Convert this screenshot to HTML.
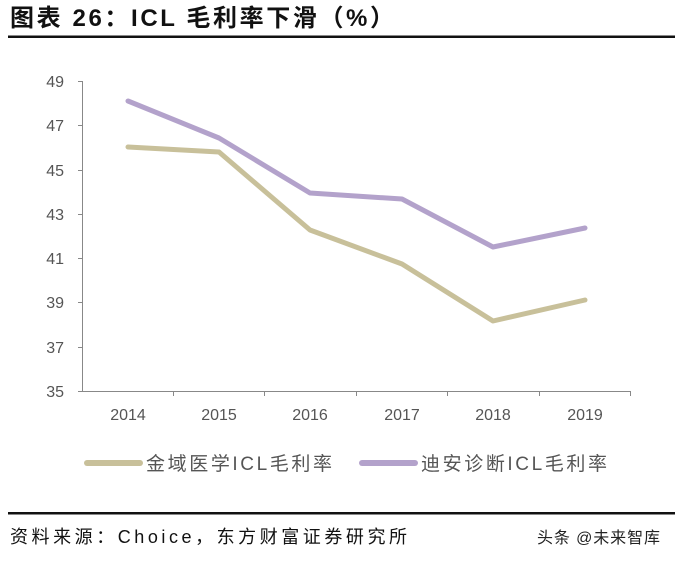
<!DOCTYPE html>
<html><head><meta charset="utf-8"><style>
body{margin:0;background:#fff;width:675px;height:561px;overflow:hidden}
svg{display:block}
</style></head><body>
<svg width="675" height="561" xmlns="http://www.w3.org/2000/svg" font-family="Liberation Sans, Noto Sans CJK SC, sans-serif">
<text x="10" y="26" font-size="24" font-weight="bold" fill="#111" textLength="384" lengthAdjust="spacing">图表 26：ICL 毛利率下滑（%）</text>
<rect x="8" y="35.5" width="667" height="2.5" fill="#111"/>
<g stroke="#888" stroke-width="1" fill="none">
<line x1="82.5" y1="81" x2="82.5" y2="391"/>
<line x1="82" y1="391.5" x2="630" y2="391.5"/>
<line x1="78" y1="81.5" x2="83" y2="81.5"/><line x1="78" y1="125.5" x2="83" y2="125.5"/><line x1="78" y1="170.5" x2="83" y2="170.5"/><line x1="78" y1="214.5" x2="83" y2="214.5"/><line x1="78" y1="258.5" x2="83" y2="258.5"/><line x1="78" y1="302.5" x2="83" y2="302.5"/><line x1="78" y1="347.5" x2="83" y2="347.5"/><line x1="78" y1="391.5" x2="83" y2="391.5"/>
<line x1="173.5" y1="391" x2="173.5" y2="396"/><line x1="264.5" y1="391" x2="264.5" y2="396"/><line x1="356.5" y1="391" x2="356.5" y2="396"/><line x1="447.5" y1="391" x2="447.5" y2="396"/><line x1="539.5" y1="391" x2="539.5" y2="396"/><line x1="630.5" y1="391" x2="630.5" y2="396"/>
</g>
<g font-size="16" fill="#555" text-anchor="end">
<text x="64" y="87">49</text><text x="64" y="131">47</text><text x="64" y="176">45</text><text x="64" y="220">43</text><text x="64" y="264">41</text><text x="64" y="308">39</text><text x="64" y="353">37</text><text x="64" y="397">35</text>
</g>
<g font-size="16" fill="#555" text-anchor="middle">
<text x="128" y="420">2014</text><text x="219" y="420">2015</text><text x="310" y="420">2016</text><text x="402" y="420">2017</text><text x="493" y="420">2018</text><text x="585" y="420">2019</text>
</g>
<polyline points="128,147 219,152 310,230 402,264 493,321 585,300" fill="none" stroke="#c8c09a" stroke-width="5" stroke-linejoin="round" stroke-linecap="round"/>
<polyline points="128,101 219,138 310,193 402,199 493,247 585,228" fill="none" stroke="#b3a2cb" stroke-width="5" stroke-linejoin="round" stroke-linecap="round"/>
<line x1="87" y1="463" x2="140" y2="463" stroke="#c8c09a" stroke-width="6" stroke-linecap="round"/>
<text x="146" y="470" font-size="19" fill="#555" textLength="186" lengthAdjust="spacing">金域医学ICL毛利率</text>
<line x1="362" y1="463" x2="415" y2="463" stroke="#b3a2cb" stroke-width="6" stroke-linecap="round"/>
<text x="421" y="470" font-size="19" fill="#555" textLength="186" lengthAdjust="spacing">迪安诊断ICL毛利率</text>
<rect x="8" y="512" width="667" height="2.5" fill="#111"/>
<text x="10" y="543" font-size="18" fill="#111" textLength="397" lengthAdjust="spacing">资料来源：Choice，东方财富证券研究所</text>
<text x="537" y="543" font-size="16" fill="#222" textLength="123" lengthAdjust="spacing">头条 @未来智库</text>
</svg>
</body></html>
